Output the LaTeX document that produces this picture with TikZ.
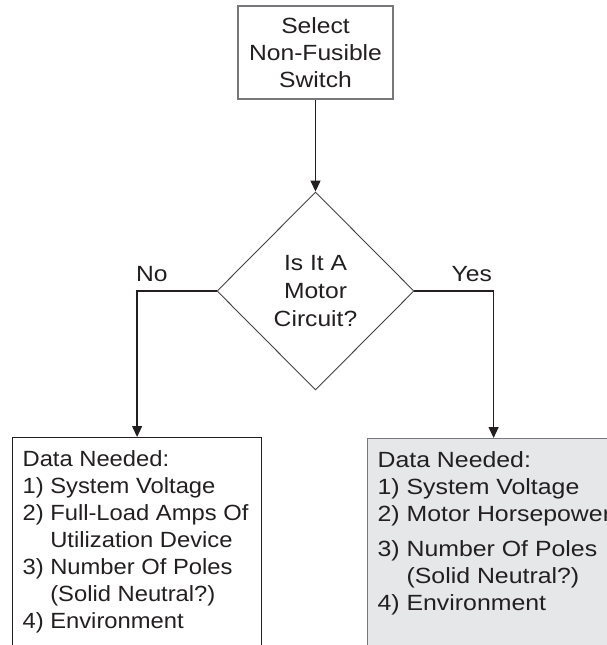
\documentclass[tikz,border=0pt]{standalone}
\usepackage{fontspec}
\setmainfont[FakeStretch=1.12]{Liberation Sans}
\newfontfamily\leftsans[FakeStretch=1.08]{Liberation Sans}
\newfontfamily\widesans[FakeStretch=1.13]{Liberation Sans}
\usetikzlibrary{shapes.geometric,arrows.meta}
\definecolor{ink}{HTML}{231F20}
\definecolor{boxgray}{HTML}{E6E7E8}
\definecolor{edgegray}{HTML}{77787B}
\newcommand{\ind}{\phantom{3) }}
\newcommand{\datalist}[2]{\parbox[t][200pt][t]{#1}{\raggedright #2}}
\tikzset{
  txt/.style={text=ink, font=\fontsize{22}{27}\selectfont},
  plain/.style={txt, draw=edgegray, line width=1.2pt, align=center, inner sep=0pt},
  decision/.style={txt, font=\fontsize{22}{28}\selectfont, diamond, draw=ink!85, line width=0.9pt,
    align=center, minimum width=197pt, minimum height=198pt, inner sep=0pt},
  databox/.style={txt, draw=ink, line width=1.2pt, anchor=north west, inner xsep=10pt, inner ysep=13pt},
  flow/.style={draw=ink, line width=1.3pt, -{Triangle[width=10pt,length=11pt]}}
}

\begin{document}
\begin{tikzpicture}[x=1pt,y=-1pt]
\clip (0,0) rectangle (607,645);
\useasboundingbox (0,0) rectangle (607,645);

\node[plain, minimum width=155pt, minimum height=93pt] (select) at (315.5,52.5) {Select\\Non-Fusible\\Switch};
\node[decision] (motor) at (315.5,291) {Is It A\\Motor\\Circuit?};

\node[databox] (nobox) at (12,437) {\leftsans\datalist{229pt}{Data Needed:\\
  1) System Voltage\\
  \mbox{2) Full-Load Amps Of}\\
  \ind Utilization Device\\
  3) Number Of Poles\\
  \ind (Solid Neutral?)\\
  4) Environment}};
\node[databox, draw=edgegray, fill=boxgray] (yesbox) at (367,438) {\widesans\datalist{232pt}{Data Needed:\\
  1) System Voltage\\
  \mbox{2) Motor Horsepower}\\[8pt]
  3) Number Of Poles\\
  \ind (Solid Neutral?)\\
  4) Environment}};

\node[txt, anchor=base west, inner sep=0pt] (nolabel) at (136,281) {No};
\node[txt, anchor=base east, inner sep=0pt] (yeslabel) at (492,281) {Yes};

\draw[flow] (select.south) -- (motor.north);
\draw[flow] (motor.west) -| (nobox.north);
\draw[flow] (motor.east) -| (yesbox.north);
\end{tikzpicture}
\end{document}
